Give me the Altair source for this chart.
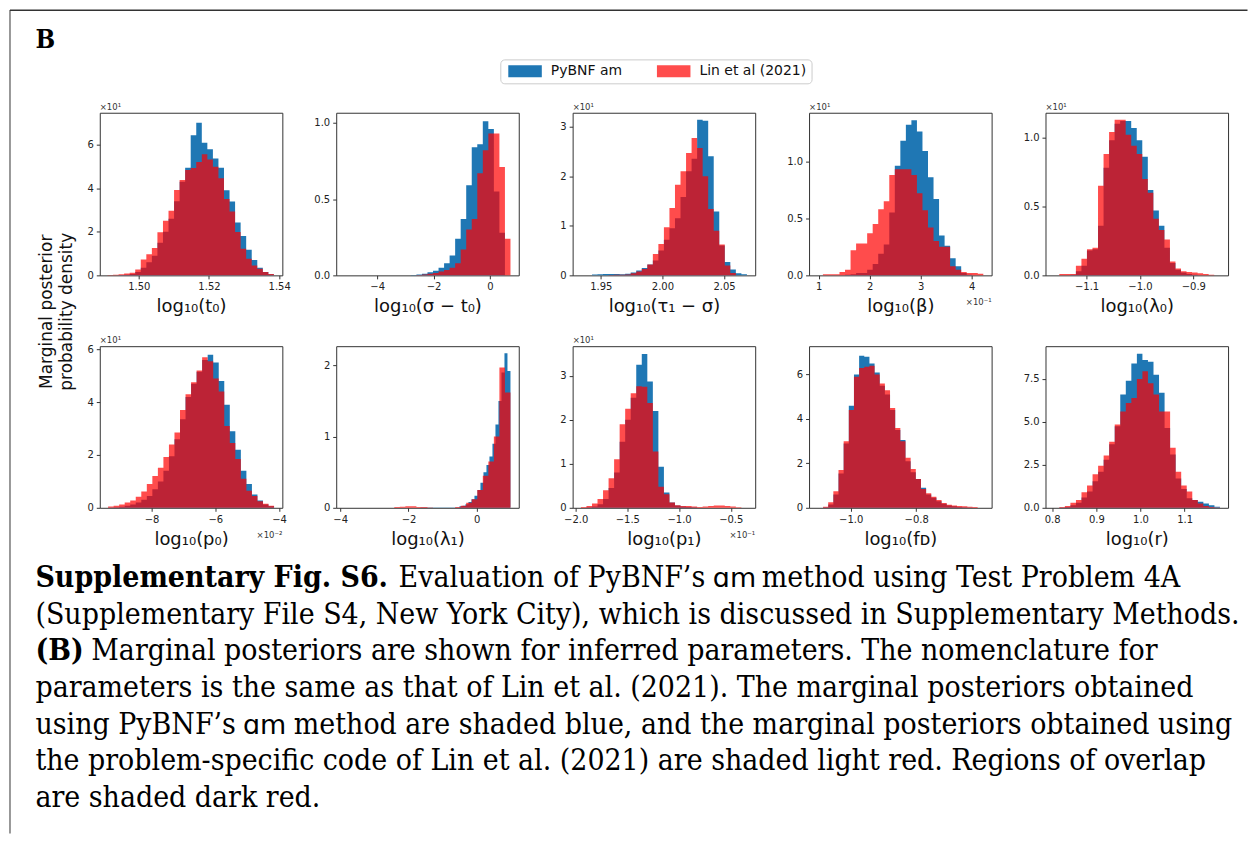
import altair as alt
import numpy as np
import pandas as pd

SERIES = ["PyBNF am", "Lin et al (2021)"]
BLUE = "#1f77b4"
RED = "#ff0000"
RED_LEGEND = "#ff4d4d"

titles = ["log₁₀(t₀)", "log₁₀(σ − t₀)", "log₁₀(τ₁ − σ)", "log₁₀(β)", "log₁₀(λ₀)",
          "log₁₀(p₀)", "log₁₀(λ₁)", "log₁₀(p₁)", "log₁₀(fᴅ)", "log₁₀(r)"]

x_domain = [[1.4889, 1.5409], [-5.45, 1.02], [1.9272, 2.0752], [0.81, 4.39], [-1.1769, -0.835],
            [-9.623, -3.895], [-4.117, 1.229], [-2.029, -0.264], [-1.127, -0.5695], [0.7849, 1.1983]]
y_top = [7.46, 1.066, 3.28, 1.425, 1.18, 6.12, 2.27, 3.67, 7.28, 9.41]

x_ticks = [[1.50, 1.52, 1.54], [-4, -2, 0], [1.95, 2.00, 2.05], [1, 2, 3, 4], [-1.1, -1.0, -0.9],
           [-8, -6, -4], [-4, -2, 0], [-2.0, -1.5, -1.0, -0.5], [-1.0, -0.8], [0.8, 0.9, 1.0, 1.1]]
x_fmt = [".2f", "d", ".2f", "d", ".1f", "d", "d", ".1f", ".1f", ".1f"]
y_ticks = [[0, 2, 4, 6], [0, 0.5, 1.0], [0, 1, 2, 3], [0, 0.5, 1.0], [0, 0.5, 1.0],
           [0, 2, 4, 6], [0, 1, 2], [0, 1, 2, 3], [0, 2, 4, 6], [0, 2.5, 5.0, 7.5]]
y_fmt = ["d", ".1f", "d", ".1f", ".1f", "d", "d", "d", "d", ".1f"]
y_mult = ["×10¹", "", "×10¹", "×10¹", "×10¹", "×10¹", "", "×10¹", "", ""]
x_mult = ["", "", "", "×10⁻¹", "", "×10⁻²", "", "×10⁻¹", "", ""]

# histogram bin ranges (30 equal bins each)
red_range = [[1.4911, 1.5385], [-5.156, 0.726], [1.9339, 2.0685], [0.973, 4.227], [-1.1614, -0.8506],
             [-9.362, -4.155], [-3.874, 0.986], [-1.949, -0.344], [-1.0843, -0.6122], [0.8037, 1.18]]
blue_range = [[1.4911, 1.5385], [-5.156, 0.726], [1.9339, 2.0685], [0.973, 4.227], [-1.1614, -0.8506],
              [-9.362, -4.155], [-1.65, 0.986], [-1.949, -0.344], [-1.0843, -0.6122], [0.8037, 1.18]]

red_h = [
    [0.02, 0.03, 0.05, 0.08, 0.12, 0.27, 0.73, 0.97, 1.26, 1.98, 2.5, 2.96, 3.92, 4.38, 4.83,
     4.92, 5.2, 5.56, 5.32, 4.98, 4.45, 3.5, 2.93, 1.99, 1.22, 0.76, 0.45, 0.3, 0.15, 0.06],
    [0, 0, 0, 0, 0, 0, 0, 0, 0, 0, 0, 0, 0, 0.003, 0.006,
     0.01, 0.015, 0.025, 0.035, 0.05, 0.08, 0.17, 0.30, 0.37, 0.67, 0.82, 0.93, 0.93, 0.71, 0.24],
    [0, 0, 0, 0, 0, 0.005, 0.01, 0.01, 0.015, 0.04, 0.08, 0.13, 0.22, 0.43, 0.63,
     0.97, 1.36, 1.83, 2.1, 2.47, 2.77, 2.57, 2.0, 1.34, 0.9, 0.62, 0.2, 0.05, 0.0, 0.0],
    [0, 0.01, 0.01, 0.01, 0.03, 0.05, 0.22, 0.28, 0.28, 0.37, 0.45, 0.58, 0.65, 0.88, 0.93,
     0.93, 0.93, 0.88, 0.72, 0.57, 0.42, 0.3, 0.25, 0.25, 0.08, 0.05, 0.03, 0.02, 0.02, 0.015],
    [0, 0.01, 0.01, 0.01, 0.07, 0.12, 0.19, 0.2, 0.65, 0.88, 1.04, 1.13, 1.13, 1.02, 0.94,
     0.88, 0.7, 0.6, 0.41, 0.33, 0.26, 0.1, 0.05, 0.03, 0.025, 0.02, 0.015, 0.01, 0.005, 0],
    [0.05, 0.08, 0.12, 0.2, 0.28, 0.42, 0.62, 0.9, 1.2, 1.52, 1.92, 2.4, 2.85, 3.7, 4.3,
     4.75, 5.2, 5.7, 5.55, 4.9, 4.4, 3.1, 2.45, 1.85, 1.1, 0.65, 0.45, 0.25, 0.15, 0.08],
    [0, 0, 0, 0, 0, 0, 0, 0, 0, 0.01, 0.015, 0.02, 0.02, 0.01, 0.01,
     0.005, 0, 0, 0, 0, 0.01, 0.03, 0.07, 0.12, 0.25, 0.45, 0.65, 1.0, 1.97, 1.62],
    [0.02, 0.04, 0.1, 0.2, 0.4, 0.67, 1.1, 1.9, 2.25, 2.6, 2.76, 2.75, 2.38, 1.28, 0.48,
     0.31, 0.12, 0.06, 0.04, 0.04, 0.03, 0.02, 0.03, 0.04, 0.05, 0.05, 0.04, 0.03, 0.01, 0.0],
    [0.05, 0.25, 0.75, 1.7, 3.0, 4.4, 5.9, 6.3, 6.35, 6.4, 6.0, 5.6, 5.3, 4.5, 3.6,
     3.0, 2.25, 1.75, 1.3, 0.85, 0.65, 0.5, 0.35, 0.22, 0.14, 0.1, 0.08, 0.07, 0.05, 0.04],
    [0, 0.05, 0.1, 0.3, 0.45, 0.9, 1.3, 1.95, 2.45, 3.05, 3.85, 4.85, 5.6, 6.1, 6.4,
     7.5, 7.95, 7.25, 6.6, 5.6, 5.6, 3.5, 2.1, 1.3, 0.95, 0.45, 0.25, 0.1, 0.05, 0.02],
]

blue_h = [
    [0.0, 0.01, 0.02, 0.03, 0.06, 0.15, 0.35, 0.6, 0.9, 1.5, 2.0, 2.6, 3.4, 4.3, 4.94,
     6.43, 7.0, 6.08, 5.78, 5.36, 4.94, 3.9, 3.39, 2.43, 1.8, 1.18, 0.7, 0.35, 0.15, 0.05],
    [0, 0, 0, 0, 0, 0, 0, 0, 0, 0, 0, 0, 0.003, 0.005, 0.01,
     0.02, 0.03, 0.05, 0.08, 0.13, 0.24, 0.37, 0.59, 0.84, 0.86, 1.01, 0.96, 0.55, 0.28, 0.0],
    [0, 0, 0.015, 0.02, 0.025, 0.025, 0.025, 0.02, 0.03, 0.06, 0.1, 0.15, 0.22, 0.3, 0.5,
     0.72, 0.95, 1.15, 1.58, 2.1, 2.35, 3.14, 3.12, 2.4, 1.29, 0.6, 0.27, 0.12, 0.04, 0.02],
    [0, 0, 0, 0, 0, 0.005, 0.01, 0.02, 0.02, 0.05, 0.1, 0.19, 0.27, 0.55, 0.96,
     1.18, 1.32, 1.36, 1.26, 1.09, 0.86, 0.67, 0.35, 0.26, 0.15, 0.08, 0.02, 0.005, 0, 0],
    [0, 0, 0, 0.005, 0.03, 0.07, 0.18, 0.19, 0.36, 0.78, 0.98, 1.1, 1.12, 1.12, 1.07,
     0.98, 0.86, 0.62, 0.47, 0.36, 0.2, 0.09, 0.04, 0.02, 0.01, 0.005, 0, 0, 0, 0],
    [0.01, 0.02, 0.04, 0.08, 0.12, 0.2, 0.3, 0.45, 0.7, 1.0, 1.4, 1.95, 2.6, 3.35, 4.2,
     4.7, 5.15, 5.6, 5.8, 5.5, 4.8, 3.9, 2.9, 2.2, 1.4, 0.9, 0.5, 0.28, 0.12, 0.06],
    [0.003, 0.003, 0.003, 0.003, 0.003, 0.003, 0.003, 0.003, 0.003, 0.003, 0.003, 0.003, 0.003, 0.02, 0.03,
     0.05, 0.08, 0.12, 0.17, 0.25, 0.35, 0.5, 0.6, 0.72, 0.9, 1.17, 1.5, 1.9, 2.17, 1.92],
    [0, 0.01, 0.03, 0.08, 0.2, 0.45, 0.8, 1.5, 2.0, 2.5, 3.25, 3.49, 2.87, 2.2, 0.93,
     0.35, 0.12, 0.05, 0.03, 0.02, 0.01, 0, 0, 0, 0, 0, 0, 0, 0, 0],
    [0.02, 0.15, 0.6, 1.55, 2.9, 4.6, 6.0, 6.85, 6.8, 6.5, 6.1, 5.5, 5.1, 4.4, 3.5,
     3.05, 2.1, 1.6, 1.3, 0.9, 0.6, 0.45, 0.3, 0.18, 0.1, 0.07, 0.04, 0.02, 0.01, 0.0],
    [0, 0.02, 0.05, 0.15, 0.3, 0.6, 0.95, 1.55, 2.1, 2.8, 3.7, 4.75, 6.6, 7.4, 8.4,
     8.97, 8.6, 8.5, 7.75, 6.7, 4.65, 3.1, 1.7, 1.1, 0.55, 0.45, 0.35, 0.25, 0.15, 0.06],
]

caption_lines = [
    [("Supplementary Fig. S6.", "bold", "serif"), ("Evaluation of PyBNF’s", "normal", "serif"),
     ("ɑm", "normal", "sans"), ("method using Test Problem 4A", "normal", "serif")],
    [("(Supplementary File S4, New York City), which is discussed in Supplementary Methods.", "normal", "serif")],
    [("(B)", "bold", "serif"), ("Marginal posteriors are shown for inferred parameters. The nomenclature for", "normal", "serif")],
    [("parameters is the same as that of Lin et al. (2021). The marginal posteriors obtained", "normal", "serif")],
    [("using PyBNF’s", "normal", "serif"), ("ɑm", "normal", "sans"),
     ("method are shaded blue, and the marginal posteriors obtained using", "normal", "serif")],
    [("the problem-specific code of Lin et al. (2021) are shaded light red. Regions of overlap", "normal", "serif")],
    [("are shaded dark red.", "normal", "serif")],
]
# x (page px) where each caption segment starts
caption_x = [[34, 398, 713, 762], [34], [34, 90], [34], [34, 242, 293], [34], [34]]

# ---------------- layout ----------------
PW, PH = [183] * 5, [163, 162]
COLSP, ROWSP = 54, 71
OX, OY = 98.5, 111.5
ONE = pd.DataFrame({"k": [0]})
SERIF = "DejaVu Serif Condensed"
SANS = "DejaVu Sans"


def steps(lo, hi, h, name):
    edges = np.linspace(lo, hi, len(h) + 1)
    return pd.DataFrame({"x": edges, "h": list(h) + [h[-1]], "series": name})


def txt(s, x, y, size, font=SANS, weight="normal", align="left", baseline="alphabetic",
        angle=0, color="#111111"):
    return alt.Chart(ONE).mark_text(
        text=s, font=font, fontSize=size, fontWeight=weight, align=align,
        baseline=baseline, angle=angle, color=color
    ).encode(x=alt.value(x), y=alt.value(y))


legend = alt.Legend(
    title=None, orient="none", legendX=500 - OX, legendY=58 - OY, direction="horizontal",
    symbolType="M-2.8,-1H2.8V1H-2.8Z", symbolSize=144, symbolOffset=12.8,
    symbolStrokeWidth=0, symbolOpacity=1,
    labelFont=SANS, labelFontSize=14, labelColor="#111111", labelOffset=18.8, columnPadding=31,
    padding=5, fillColor="white", strokeColor="#cccccc", cornerRadius=4,
)

panels = []
for i in range(10):
    r, c = divmod(i, 5)
    w, h = PW[c], PH[r]
    xs = alt.Scale(domain=x_domain[i], nice=False, zero=False)
    ys = alt.Scale(domain=[0, y_top[i]], nice=False, zero=True)
    blue = alt.Chart(steps(*blue_range[i], blue_h[i], SERIES[0])).mark_area(
        interpolate="step-after"
    ).encode(
        x=alt.X("x:Q", scale=xs, axis=alt.Axis(values=x_ticks[i], format=x_fmt[i], title=titles[i])),
        y=alt.Y("h:Q", scale=ys, axis=alt.Axis(values=y_ticks[i], format=y_fmt[i], title=None)),
        color=alt.Color("series:N", scale=alt.Scale(domain=SERIES, range=[BLUE, RED_LEGEND]), legend=legend),
    )
    red = alt.Chart(steps(*red_range[i], red_h[i], SERIES[1])).mark_area(
        interpolate="step-after", color=RED, opacity=0.7
    ).encode(x="x:Q", y="h:Q")
    layers = [blue, red]
    if y_mult[i]:
        layers.append(txt(y_mult[i], 0, -3, 8.5, color="#333333"))
    if x_mult[i]:
        layers.append(txt(x_mult[i], w, h + 30, 8.5, align="right", color="#333333"))
    if i == 0:
        # page frame lines
        layers.append(alt.Chart(ONE).mark_rule(color="#333333", strokeWidth=1).encode(
            x=alt.value(8.5 - OX), y=alt.value(8.5 - OY), y2=alt.value(834 - OY)))
        layers.append(alt.Chart(ONE).mark_rule(color="#333333", strokeWidth=1.5).encode(
            x=alt.value(8.5 - OX), x2=alt.value(1249 - OX), y=alt.value(8.75 - OY)))
        layers.append(txt("B", 34 - OX, 47 - OY, 26, font=SERIF, weight="bold", color="black"))
        layers.append(txt("Marginal posterior", 46 - OX, 311 - OY, 17, angle=270,
                          align="center", baseline="middle"))
        layers.append(txt("probability density", 66 - OX, 311 - OY, 17, angle=270,
                          align="center", baseline="middle"))
        base = 587
        for li, segs in enumerate(caption_lines):
            y = base + li * 36.7 - OY
            for (s, wt, fam), x in zip(segs, caption_x[li]):
                if fam == "sans":
                    layers.append(txt(s, x - OX, y, 27, font=SANS, color="black"))
                else:
                    layers.append(txt(s, x - OX, y, 30, font=SERIF, weight=wt, color="black"))
    panels.append(alt.layer(*layers).properties(width=w, height=h))

chart = alt.concat(
    *panels, columns=5, spacing={"row": ROWSP, "column": COLSP}, bounds="flush"
).properties(padding=0).configure_view(
    stroke="#333333", strokeWidth=1
).configure_axis(
    domain=False, grid=False, tickSize=3.5, tickColor="#333333", tickWidth=1,
    labelFont=SANS, labelFontSize=10, labelColor="#222222", labelPadding=3, labelOverlap=False,
    titleFont=SANS, titleFontSize=18, titleFontWeight="normal", titleColor="#111111", titlePadding=6,
)

chart.save("out.html", embed_options={"renderer": "svg", "actions": False})
